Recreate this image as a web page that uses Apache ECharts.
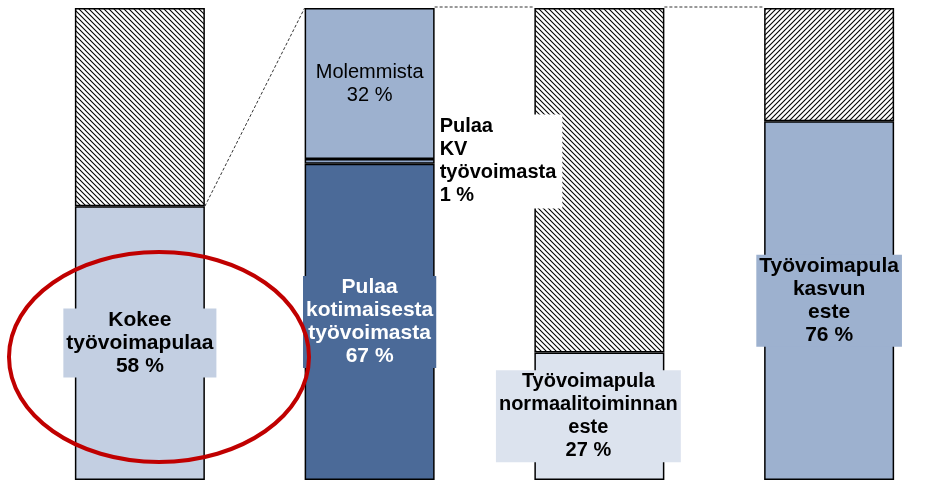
<!DOCTYPE html>
<html>
<head>
<meta charset="utf-8">
<script src="https://cdn.jsdelivr.net/npm/echarts@6/dist/echarts.min.js"></script>
<style>
  html, body { margin: 0; padding: 0; background: #fff; }
  #main { width: 935px; height: 480px; }
</style>
</head>
<body>
<div id="main"></div>
<script>
// values (percent)
const categories = ['Kokee työvoimapulaa', 'Pulaa kotimaisesta työvoimasta', 'Työvoimapula normaalitoiminnan este', 'Työvoimapula kasvun este'];
const baseValues = [58, 67, 27, 76];
const kvValues = ['-', 1, '-', '-'];
const restValues = [42, 32, 73, 24];
const baseLabels = ['Kokee\ntyövoimapulaa', 'Pulaa\nkotimaisesta\ntyövoimasta', 'Työvoimapula\nnormaalitoiminnan\neste', 'Työvoimapula\nkasvun\neste'];
const kvLabel = 'Pulaa\nKV\ntyövoimasta';
const restLabel = 'Molemmista';

const baseColors = ['#c3cfe2', '#4b6a98', '#dce3ee', '#9db1cf'];
const FONT = '"Liberation Sans", Arial, sans-serif';

// hatch patterns
function hatch(reverse) {
    const c = document.createElement('canvas');
    c.width = 5; c.height = 5;
    const ctx = c.getContext('2d');
    ctx.fillStyle = '#fff';
    ctx.fillRect(0, 0, 5, 5);
    ctx.strokeStyle = '#000';
    ctx.lineWidth = 1.1;
    for (let k = -5; k <= 5; k += 5) {
        ctx.beginPath();
        if (reverse) {
            ctx.moveTo(k - 1, 6); ctx.lineTo(k + 6, -1);
        } else {
            ctx.moveTo(k - 1, -1); ctx.lineTo(k + 6, 6);
        }
        ctx.stroke();
    }
    return { image: c, repeat: 'repeat' };
}

const barW = 130;
const border = { borderColor: '#000', borderWidth: 1.5 };

const chart = echarts.init(document.getElementById('main'));
const option = {
    animation: false,
    grid: { left: 25, width: 919, top: 8, bottom: 0, outerBoundsMode: 'none' },
    xAxis: { type: 'category', data: categories, show: false },
    yAxis: { type: 'value', min: 0, max: 100, show: false },
    series: [
        {
            name: 'base',
            type: 'bar',
            stack: 'all',
            barWidth: barW,
            z: 2,
            data: baseValues.map((v, i) => ({
                value: v,
                itemStyle: Object.assign({ color: baseColors[i] }, border),
                label: {
                    show: true,
                    position: 'inside',
                    formatter: baseLabels[i] + '\n' + v + ' %',
                    fontFamily: FONT,
                    fontWeight: 'bold',
                    fontSize: i === 2 ? 20 : 21,
                    lineHeight: 23,
                    color: i === 1 ? '#fff' : '#000',
                    backgroundColor: baseColors[i],
                    padding: [0, 3],
                    offset: i === 2 ? [-11, 0] : [0, 0]
                }
            }))
        },
        {
            name: 'kv',
            type: 'bar',
            stack: 'all',
            barWidth: barW,
            z: 3,
            data: kvValues.map(v => v === '-' ? '-' : {
                value: v,
                itemStyle: Object.assign({ color: '#8fa5c8' }, border),
                label: {
                    show: true,
                    position: 'right',
                    distance: 1,
                    align: 'left',
                    formatter: kvLabel + '\n' + v + ' %',
                    fontFamily: FONT,
                    fontWeight: 'bold',
                    fontSize: 20,
                    lineHeight: 23,
                    color: '#000',
                    backgroundColor: '#fff',
                    padding: [1, 6, 1, 4]
                }
            })
        },
        {
            name: 'rest',
            type: 'bar',
            stack: 'all',
            barWidth: barW,
            z: 2,
            data: restValues.map((v, i) => {
                if (i === 1) {
                    return {
                        value: v,
                        itemStyle: Object.assign({ color: '#9db1cf' }, border),
                        label: {
                            show: true,
                            position: 'inside',
                            formatter: restLabel + '\n' + v + ' %',
                            fontFamily: FONT,
                            fontSize: 20,
                            lineHeight: 23,
                            color: '#000'
                        }
                    };
                }
                return { value: v, itemStyle: Object.assign({ color: hatch(i === 3) }, border) };
            })
        }
    ]
};
chart.setOption(option);

// dashed connectors between the bars and the highlight ellipse
const px = (i, v) => chart.convertToPixel({ gridIndex: 0 }, [i, v]);
const half = barW / 2;
const topOf = i => baseValues[i] + (kvValues[i] === '-' ? 0 : kvValues[i]) + restValues[i];
const a = px(0, baseValues[0]);
const b = px(1, topOf(1));
const c1 = px(1, topOf(1));
const c2 = px(2, topOf(2));
const c3 = px(3, topOf(3));
const dash = { stroke: '#333', lineWidth: 1, lineDash: [3, 2] };
chart.setOption({
    graphic: [
        { type: 'line', z: 50, shape: { x1: a[0] + half, y1: a[1], x2: b[0] - half, y2: b[1] }, style: dash },
        { type: 'line', z: 50, shape: { x1: c1[0] + half, y1: c1[1] - 1, x2: c2[0] - half, y2: c2[1] - 1 }, style: dash },
        { type: 'line', z: 50, shape: { x1: c2[0] + half, y1: c2[1] - 1, x2: c3[0] - half, y2: c3[1] - 1 }, style: dash },
        {
            type: 'ellipse', z: 100,
            shape: { cx: 159, cy: 357, rx: 150, ry: 105 },
            style: { fill: 'none', stroke: '#c00000', lineWidth: 4 }
        }
    ]
});
</script>
</body>
</html>
